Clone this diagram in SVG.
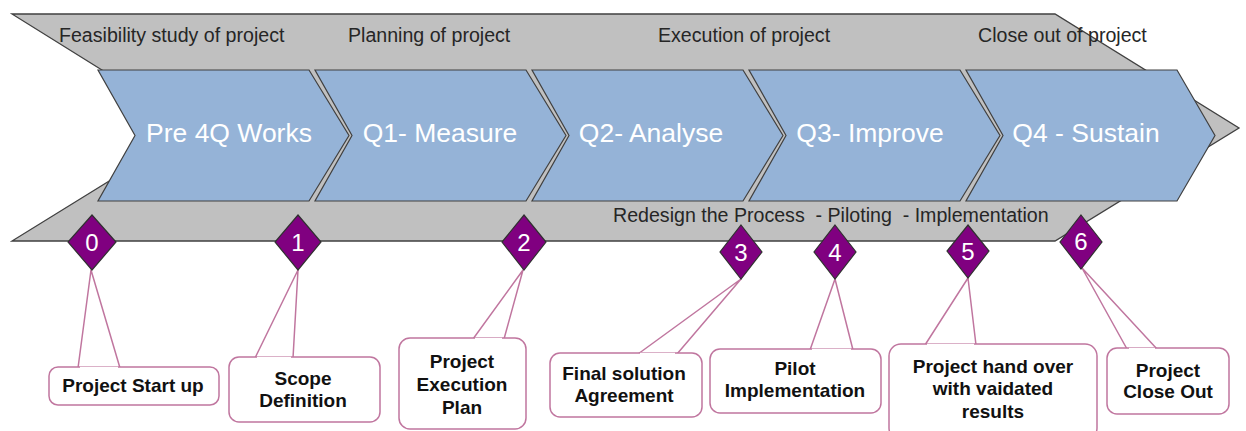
<svg xmlns="http://www.w3.org/2000/svg" width="1246" height="431" viewBox="0 0 1246 431">
<style>
.band{fill:#C0C0C0;stroke:#404040;stroke-width:1.3}
.chev{fill:#95B3D7;stroke:#404040;stroke-width:1.2}
.ctext{font-family:"Liberation Sans",Arial,sans-serif;font-size:26.5px;fill:#FFFFFF;text-anchor:middle}
.ptext{font-family:"Liberation Sans",Arial,sans-serif;font-size:19.6px;fill:#262626;white-space:pre}
.dia{fill:#800080;stroke:#303030;stroke-width:1.2}
.dtext{font-family:"Liberation Sans",Arial,sans-serif;font-size:24px;fill:#FFFFFF;text-anchor:middle}
.box{fill:#FFFFFF;stroke:#C0769F;stroke-width:1.5;stroke-linejoin:round}
.btext{font-family:"Liberation Sans",Arial,sans-serif;font-size:19px;font-weight:bold;fill:#111111;text-anchor:middle}
</style>
<rect width="1246" height="431" fill="#FFFFFF"/>
<g id="band">
<polygon class="band" points="12,14 1055,14 1239,128 1055,241 12,241 195,128"/>
<text class="ptext" x="59" y="42">Feasibility study of project</text>
<text class="ptext" x="348" y="42">Planning of project</text>
<text class="ptext" x="658" y="42">Execution of project</text>
<text class="ptext" x="978" y="42">Close out of project</text>
<text class="ptext" x="613" y="222" xml:space="preserve">Redesign the Process  - Piloting  - Implementation</text>
</g>
<g id="phase-pre">
<polygon class="chev" points="98,70 309,70 349,135.5 309,201 98,201 135,135.5"/>
<text class="ctext" x="229" y="142">Pre 4Q Works</text>
</g>
<g id="phase-q1">
<polygon class="chev" points="315,70 526,70 566,135.5 526,201 315,201 352,135.5"/>
<text class="ctext" x="440" y="142">Q1- Measure</text>
</g>
<g id="phase-q2">
<polygon class="chev" points="532,70 743,70 783,135.5 743,201 532,201 569,135.5"/>
<text class="ctext" x="651" y="142">Q2- Analyse</text>
</g>
<g id="phase-q3">
<polygon class="chev" points="749,70 960,70 1000,135.5 960,201 749,201 786,135.5"/>
<text class="ctext" x="870" y="142">Q3- Improve</text>
</g>
<g id="phase-q4">
<polygon class="chev" points="966,70 1177,70 1215,135.5 1177,201 966,201 1003,135.5"/>
<text class="ctext" x="1086" y="142">Q4 - Sustain</text>
</g>
<g id="connectors">
<polygon class="box" points="78,368 91,270 120,368"/>
<polygon class="box" points="255,358 298,270 293,358"/>
<polygon class="box" points="473,339 523,270 504,339"/>
<polygon class="box" points="638,354 741,279 677,354"/>
<polygon class="box" points="810,350 835,279 853,350"/>
<polygon class="box" points="925,345 968,278 976,345"/>
<polygon class="box" points="1127,349 1082,268 1157,349"/>
</g>
<g id="m0">
<polygon class="dia" points="92,215 116,242 92,270 68,242"/>
<text class="dtext" x="92" y="251">0</text>
</g>
<g id="m1">
<polygon class="dia" points="298,215 321,242 298,270 275,242"/>
<text class="dtext" x="298" y="251">1</text>
</g>
<g id="m2">
<polygon class="dia" points="524,215 546,242 524,270 502,242"/>
<text class="dtext" x="524" y="251">2</text>
</g>
<g id="m3">
<polygon class="dia" points="741,225 762,252 741,279 720,252"/>
<text class="dtext" x="741" y="261">3</text>
</g>
<g id="m4">
<polygon class="dia" points="835,225 856,252 835,279 814,252"/>
<text class="dtext" x="835" y="261">4</text>
</g>
<g id="m5">
<polygon class="dia" points="968,225 989,251 968,278 947,251"/>
<text class="dtext" x="968" y="260">5</text>
</g>
<g id="m6">
<polygon class="dia" points="1081,215 1102,242 1081,269 1060,242"/>
<text class="dtext" x="1081" y="250">6</text>
</g>
<g id="c0">
<rect class="box" x="49" y="367" width="170" height="38" rx="9"/>
<path d="M80,367.8 L118,367.8" stroke="#FFFFFF" stroke-width="2"/>
<text class="btext" x="133" y="392">Project Start up</text>
</g>
<g id="c1">
<rect class="box" x="229" y="357" width="151" height="65" rx="10"/>
<path d="M257,357.8 L291,357.8" stroke="#FFFFFF" stroke-width="2"/>
<text class="btext" x="303" y="385">Scope</text>
<text class="btext" x="303" y="407">Definition</text>
</g>
<g id="c2">
<rect class="box" x="399" y="338" width="127" height="91" rx="11"/>
<path d="M475,338.8 L502,338.8" stroke="#FFFFFF" stroke-width="2"/>
<text class="btext" x="462" y="368">Project</text>
<text class="btext" x="462" y="391">Execution</text>
<text class="btext" x="462" y="414">Plan</text>
</g>
<g id="c3">
<rect class="box" x="550" y="353" width="152" height="64" rx="10"/>
<path d="M640,353.8 L675,353.8" stroke="#FFFFFF" stroke-width="2"/>
<text class="btext" x="624" y="380">Final solution</text>
<text class="btext" x="624" y="402">Agreement</text>
</g>
<g id="c4">
<rect class="box" x="710" y="349" width="171" height="64" rx="10"/>
<path d="M812,349.8 L851,349.8" stroke="#FFFFFF" stroke-width="2"/>
<text class="btext" x="795" y="375">Pilot</text>
<text class="btext" x="795" y="397">Implementation</text>
</g>
<g id="c5">
<rect class="box" x="889" y="344" width="208" height="96" rx="12"/>
<path d="M927,344.8 L974,344.8" stroke="#FFFFFF" stroke-width="2"/>
<text class="btext" x="993" y="373">Project hand over</text>
<text class="btext" x="993" y="395">with vaidated</text>
<text class="btext" x="993" y="418">results</text>
</g>
<g id="c6">
<rect class="box" x="1107" y="348" width="122" height="66" rx="10"/>
<path d="M1129,348.8 L1155,348.8" stroke="#FFFFFF" stroke-width="2"/>
<text class="btext" x="1168" y="377">Project</text>
<text class="btext" x="1168" y="398">Close Out</text>
</g>
</svg>
